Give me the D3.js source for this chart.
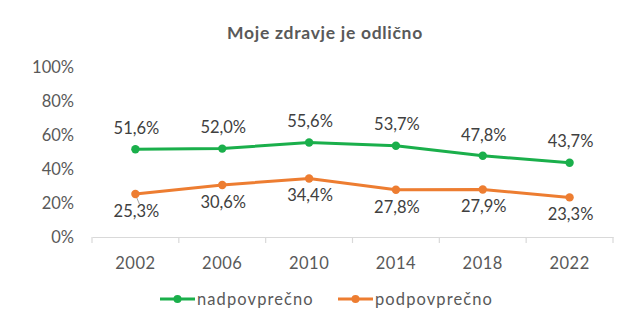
<!DOCTYPE html>
<html><head><meta charset="utf-8">
<script src="https://cdn.jsdelivr.net/npm/d3@7"></script>
<style>body{margin:0;background:#fff}svg{display:block}</style>
</head><body>
<script>
const years = ["2002","2006","2010","2014","2018","2022"];
const nadpovprecno = [51.6, 52.0, 55.6, 53.7, 47.8, 43.7];
const podpovprecno = [25.3, 30.6, 34.4, 27.8, 27.9, 23.3];
const yTicks = [0, 20, 40, 60, 80, 100];
const seriesNames = ["nadpovprečno", "podpovprečno"];
const colors = ["#1AAF4B", "#ED7D31"];

const W = 640, H = 333;
const font = "Lato, 'Open Sans', sans-serif";
const fs = 16.5;
const svg = d3.select("body").append("svg").attr("width", W).attr("height", H);

const x = d3.scaleBand().domain(years).range([92, 613]);
const y = d3.scaleLinear().domain([0, 100]).range([237, 67]);

svg.append("text").attr("x", 325).attr("y", 33).attr("dy", "0.35em").attr("text-anchor", "middle")
  .attr("font-family", font).attr("font-weight", "bold").attr("font-size", 17.5)
  .attr("letter-spacing", 0.7)
  .attr("fill", "#595959").text("Moje zdravje je odlično");

// y axis labels
svg.append("g").selectAll("text").data(yTicks).join("text")
  .attr("x", 74).attr("y", d => y(d)).attr("dy", "0.35em")
  .attr("text-anchor", "end").attr("font-family", font).attr("font-size", fs)
  .attr("fill", "#595959").text(d => d + "%");

// x axis
const xg = svg.append("g").attr("transform", `translate(0,${y(0)})`)
  .call(d3.axisBottom(x).tickSize(0).tickPadding(20));
xg.select(".domain").attr("stroke", "#d9d9d9").attr("stroke-width", 1.2);
xg.selectAll("text").attr("font-family", font).attr("font-size", fs)
  .attr("letter-spacing", 0.5).attr("fill", "#595959");
const bounds = years.map(d => x(d)).concat([x.range()[1]]);
xg.selectAll("line.sep").data(bounds).join("line").attr("class", "sep")
  .attr("x1", d => d).attr("x2", d => d).attr("y1", 0).attr("y2", 6)
  .attr("stroke", "#d9d9d9").attr("stroke-width", 1.2);

const cx = d => x(d) + x.bandwidth() / 2;
const data = [nadpovprecno, podpovprecno];

// leader line for 2002 orange label
svg.append("line").attr("x1", cx(years[0]) + 1).attr("y1", y(podpovprecno[0]) + 3)
  .attr("x2", cx(years[0]) + 4).attr("y2", y(podpovprecno[0]) + 10)
  .attr("stroke", "#a6a6a6").attr("stroke-width", 1);

data.forEach((vals, i) => {
  const line = d3.line().x((d, j) => cx(years[j])).y(d => y(d));
  svg.append("path").datum(vals).attr("d", line).attr("fill", "none")
    .attr("stroke", colors[i]).attr("stroke-width", 3).attr("stroke-linejoin", "round");
  svg.append("g").selectAll("circle").data(vals).join("circle")
    .attr("cx", (d, j) => cx(years[j])).attr("cy", d => y(d)).attr("r", 4.2)
    .attr("fill", colors[i]);
  svg.append("g").selectAll("text").data(vals).join("text")
    .attr("x", (d, j) => cx(years[j]) + 1)
    .attr("y", d => i === 0 ? y(d) - 21 : y(d) + 17)
    .attr("dy", "0.35em").attr("text-anchor", "middle")
    .attr("font-family", font).attr("font-size", fs).attr("fill", "#404040")
    .text(d => d.toFixed(1).replace(".", ",") + "%");
});

// legend
const legX = [160, 338];
seriesNames.forEach((n, i) => {
  const g = svg.append("g").attr("transform", `translate(${legX[i]},299)`);
  g.append("line").attr("x1", 0).attr("x2", 35).attr("y1", 0).attr("y2", 0)
    .attr("stroke", colors[i]).attr("stroke-width", 3);
  g.append("circle").attr("cx", 17.5).attr("cy", 0).attr("r", 4).attr("fill", colors[i]);
  g.append("text").attr("x", 37).attr("y", 0).attr("dy", "0.35em")
    .attr("font-family", font).attr("font-size", fs).attr("letter-spacing", 1.1)
    .attr("fill", "#595959").text(n);
});
</script>
</body></html>
